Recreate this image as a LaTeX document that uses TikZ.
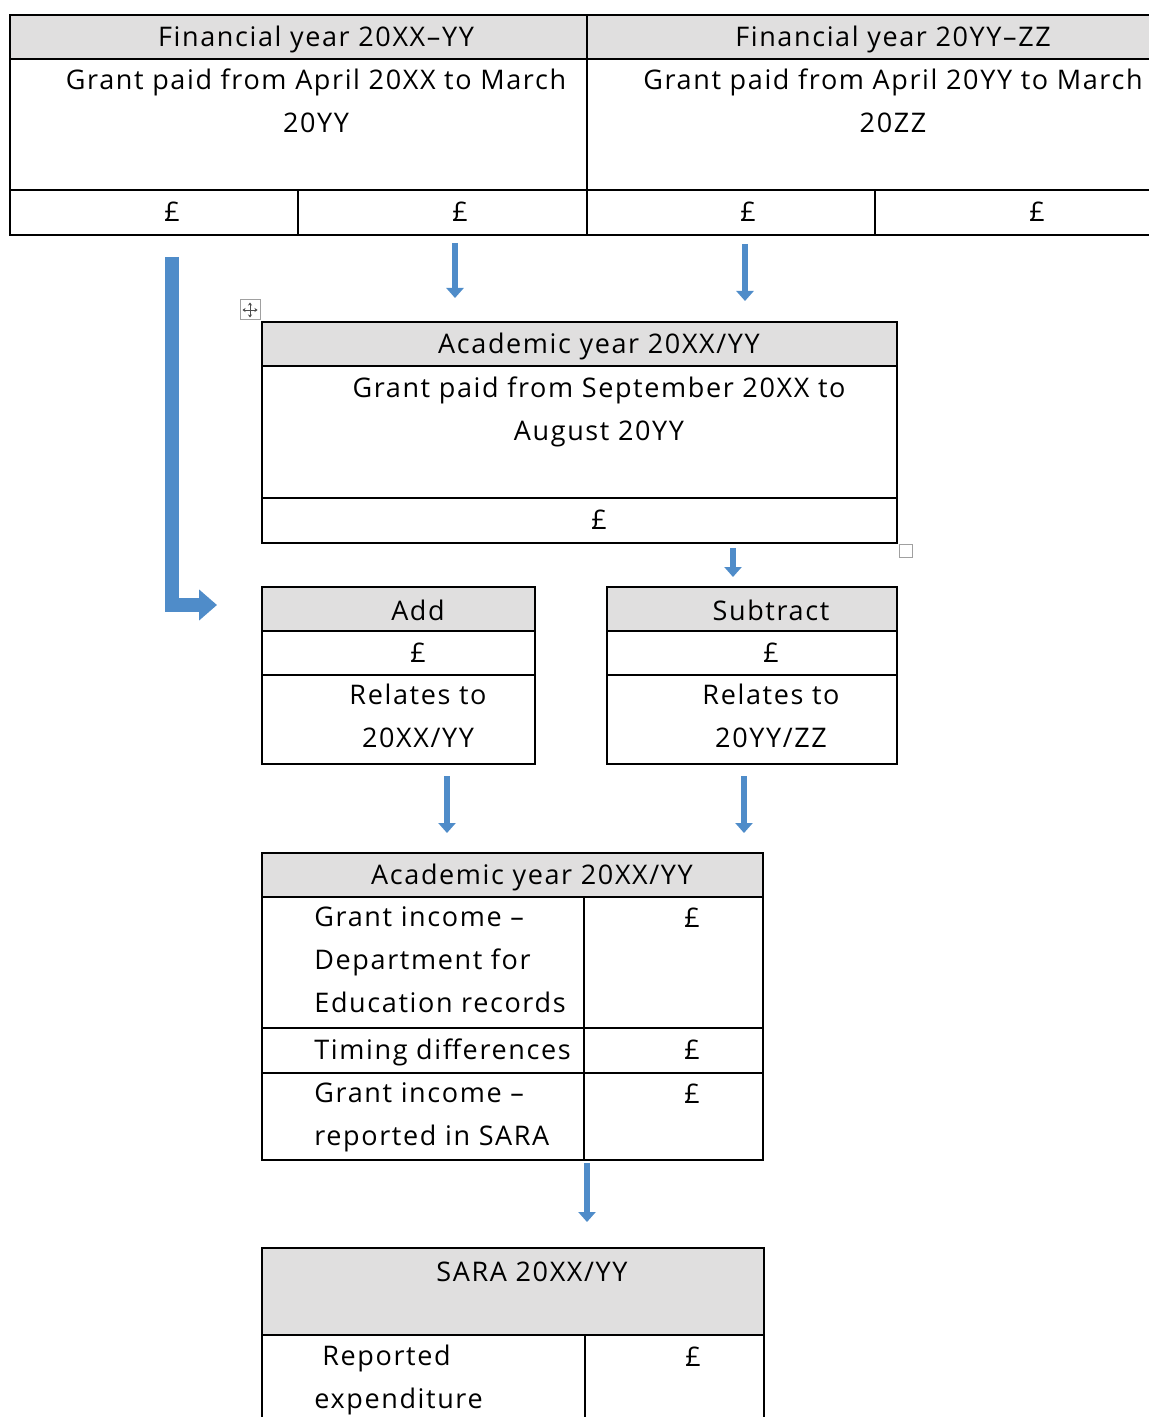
\documentclass[tikz,border=0pt]{standalone}
\usepackage{fontspec}
\setmainfont[LetterSpace=6]{Open Sans}
\usetikzlibrary{arrows.meta}
\definecolor{cellgrey}{HTML}{E0DFDF}
\definecolor{arrowblue}{HTML}{4F8CC9}
\definecolor{handlegrey}{HTML}{A0A0A0}

\begin{document}
\begin{tikzpicture}[x=0.5pt,y=-0.5pt,
    cell/.style={inner sep=0pt,font=\fontsize{13.5}{21.5}\selectfont},
    celltext/.style={cell,align=center,anchor=north},
    rowtext/.style={cell,align=left,anchor=north west},
    grid/.style={line width=0.8pt},
    head/.style={fill=cellgrey},
    downarrow/.style={line width=3pt,draw=arrowblue,-{Triangle[length=5pt,width=8.5pt]}},
    bigarrow/.style={line width=7pt,draw=arrowblue,-{Triangle[length=9pt,width=15pt]}}]
    \useasboundingbox (0,0) rectangle (1149,1417);

    % financial years
    \fill[head] (10,15) rectangle (1200,59);
    \draw[grid] (1200,15) -- (10,15) -- (10,235) -- (1200,235);
    \draw[grid] (10,59) -- (1200,59) (10,190) -- (1200,190);
    \draw[grid] (587,15) -- (587,235) (298,190) -- (298,235) (875,190) -- (875,235);
    \node[cell] (fy1) at (316,39) {Financial year 20XX–YY};
    \node[cell] (fy2) at (893,39) {Financial year 20YY–ZZ};
    \node[celltext] (paid1) at (316,68) {Grant paid from April 20XX to March\\20YY};
    \node[celltext] (paid2) at (893,68) {Grant paid from April 20YY to March\\20ZZ};
    \foreach \n/\x in {1/172,2/460,3/748,4/1037}
      \node[cell] (fyp\n) at (\x,212) {£};

    % academic year
    \fill[head] (262,322) rectangle (897,366);
    \draw[grid] (262,322) rectangle (897,543);
    \draw[grid] (262,366) -- (897,366) (262,498) -- (897,498);
    \node[cell] (ay) at (599,346) {Academic year 20XX/YY};
    \node[celltext] (paid3) at (599,376) {Grant paid from September 20XX to\\August 20YY};
    \node[cell] (ayp) at (599,520) {£};

    % table handles
    \node[draw=handlegrey,line width=0.5pt,minimum size=10pt,inner sep=0pt] (move) at (250,310) {};
    \draw[gray!60!black,line width=0.4pt,{Stealth[length=1.5pt,width=2pt]}-{Stealth[length=1.5pt,width=2pt]}]
      ([yshift=-1.5pt]move.north) -- ([yshift=1.5pt]move.south);
    \draw[gray!60!black,line width=0.4pt,{Stealth[length=1.5pt,width=2pt]}-{Stealth[length=1.5pt,width=2pt]}]
      ([xshift=1.5pt]move.west) -- ([xshift=-1.5pt]move.east);
    \node[draw=handlegrey,line width=0.5pt,minimum size=6.5pt,inner sep=0pt] (resize) at (905.5,550.5) {};

    % add / subtract
    \fill[head] (262,587) rectangle (535,631);
    \fill[head] (607,587) rectangle (897,631);
    \draw[grid] (262,587) rectangle (535,764) (262,631) -- (535,631) (262,675) -- (535,675);
    \draw[grid] (607,587) rectangle (897,764) (607,631) -- (897,631) (607,675) -- (897,675);
    \node[cell] (add) at (418,610) {Add};
    \node[cell] (addp) at (418,653) {£};
    \node[celltext] (addrel) at (418,684) {Relates to\\20XX/YY};
    \node[cell] (sub) at (771,610) {Subtract};
    \node[cell] (subp) at (771,653) {£};
    \node[celltext] (subrel) at (771,684) {Relates to\\20YY/ZZ};

    % academic year totals
    \fill[head] (262,853) rectangle (763,897);
    \draw[grid] (262,853) rectangle (763,1160) (262,897) -- (763,897);
    \draw[grid] (262,1028) -- (763,1028) (262,1073) -- (763,1073) (584,897) -- (584,1160);
    \node[cell] (tot) at (532,877) {Academic year 20XX/YY};
    \node[rowtext] (dfe) at (314,906) {Grant income –\\Department for\\Education records};
    \node[rowtext] (timing) at (314,1038) {Timing differences};
    \node[rowtext] (sara) at (314,1082) {Grant income –\\reported in SARA};
    \foreach \n/\y in {1/918,2/1050,3/1094}
      \node[cell] (totp\n) at (692,\y) {£};

    % SARA
    \fill[head] (262,1248) rectangle (764,1335);
    \draw[grid] (262,1440) -- (262,1248) -- (764,1248) -- (764,1440);
    \draw[grid] (262,1335) -- (764,1335) (585,1335) -- (585,1440);
    \node[cell] (saray) at (532,1272) {SARA 20XX/YY};
    \node[rowtext] (exp) at (314,1345) {\hspace{4pt}Reported\\expenditure};
    \node[cell] (expp) at (693,1357) {£};

    % arrows
    \foreach \n/\x/\ya/\yb in {1/455/243/298, 2/745/244/301, 3/733/548/577,
                               4/447/776/833, 5/744/776/833, 6/587/1163/1222} {
      \coordinate (s\n) at (\x,\ya);
      \coordinate (e\n) at (\x,\yb);
      \draw[downarrow] (s\n) -- (e\n);
    }
    \coordinate (carry) at (172,257);
    \coordinate (carryend) at (217,605);
    \draw[bigarrow] (carry) |- (carryend);
\end{tikzpicture}
\end{document}
